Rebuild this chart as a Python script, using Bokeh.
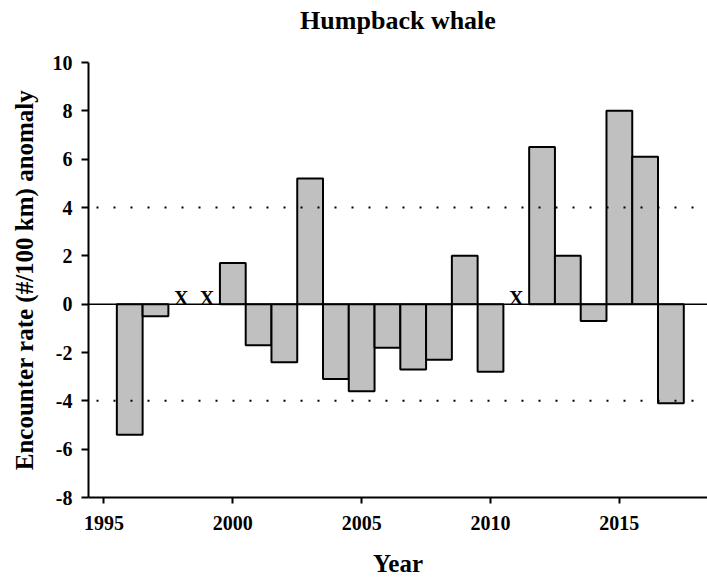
from bokeh.plotting import figure
from bokeh.models import Span, ColumnDataSource, FixedTicker, Range1d, Title
from bokeh.core.properties import value
from bokeh.embed import file_html
from bokeh.resources import INLINE

years = [1996, 1997, 2000, 2001, 2002, 2003, 2004, 2005, 2006, 2007, 2008,
         2009, 2010, 2012, 2013, 2014, 2015, 2016, 2017]
anomaly = [-5.4, -0.5, 1.7, -1.7, -2.4, 5.2, -3.1, -3.6, -1.8, -2.7, -2.3,
           2.0, -2.8, 6.5, 2.0, -0.7, 8.0, 6.1, -4.1]
missing_years = [1998, 1999, 2011]
missing_marks = ["X", "X", "X"]
y_ticks = [-8, -6, -4, -2, 0, 2, 4, 6, 8, 10]
x_ticks = [1995, 2000, 2005, 2010, 2015]
thresholds = [4, -4]
title_text = "Humpback whale"

FONT = "Liberation Serif"

p = figure(width=707, height=582, output_backend="svg", toolbar_location=None,
           x_range=Range1d(1994.4, 2018.42), y_range=Range1d(-8, 10),
           min_border_left=88, min_border_right=0, min_border_top=62,
           min_border_bottom=85)

p.outline_line_color = None
p.xgrid.visible = False
p.ygrid.visible = False
p.background_fill_color = "white"
p.border_fill_color = "white"

src = ColumnDataSource(dict(x=years, top=anomaly))
p.vbar(x="x", top="top", bottom=0, width=1.0, source=src,
       fill_color="#c0c0c0", line_color="black", line_width=2)

msrc = ColumnDataSource(dict(x=missing_years, y=[0] * len(missing_years), t=missing_marks))
p.text(x="x", y="y", text="t", source=msrc, text_font=value(FONT),
       text_font_style="bold", text_font_size="20px", text_align="center",
       text_baseline="alphabetic", y_offset=-6, text_color="black")

p.add_layout(Span(location=0, dimension="width", line_color="black", line_width=1.5))
for t in thresholds:
    p.add_layout(Span(location=t, dimension="width", line_color="black",
                      line_width=2, line_dash="2 15", line_dash_offset=9))

# invisible (white) spacer panel next to the frame, then the title above it
p.add_layout(Title(text=".", text_font_size="2px", text_color="white", standoff=25), "above")
p.add_layout(Title(text=title_text, text_font=FONT, text_font_style="bold",
                   text_font_size="26px", text_color="black", align="center",
                   vertical_align="bottom", standoff=0), "above")

for ax in (p.xaxis[0], p.yaxis[0]):
    ax.axis_line_width = 2
    ax.major_tick_line_width = 2
    ax.major_tick_in = 0
    ax.major_tick_out = 7
    ax.minor_tick_line_color = None
    ax.major_label_text_font = FONT
    ax.major_label_text_font_style = "bold"
    ax.major_label_text_font_size = "20px"
    ax.major_label_text_color = "black"
    ax.axis_label_text_font = FONT
    ax.axis_label_text_font_style = "bold"
    ax.axis_label_text_font_size = "25px"
    ax.axis_label_text_color = "black"

p.xaxis.ticker = FixedTicker(ticks=x_ticks)
p.yaxis.ticker = FixedTicker(ticks=y_ticks)
p.yaxis.major_label_overrides = {t: str(t) for t in y_ticks}
p.xaxis.major_label_overrides = {t: str(t) for t in x_ticks}
p.xaxis.major_tick_out = 6
p.xaxis.major_label_standoff = 12
p.yaxis.major_label_standoff = 9
p.xaxis.axis_label = "Year"
p.yaxis.axis_label = "Encounter rate (#/100 km) anomaly"
p.xaxis.axis_label_standoff = 17
p.yaxis.axis_label_standoff = 12

open("out.html", "w").write(file_html(p, INLINE))
